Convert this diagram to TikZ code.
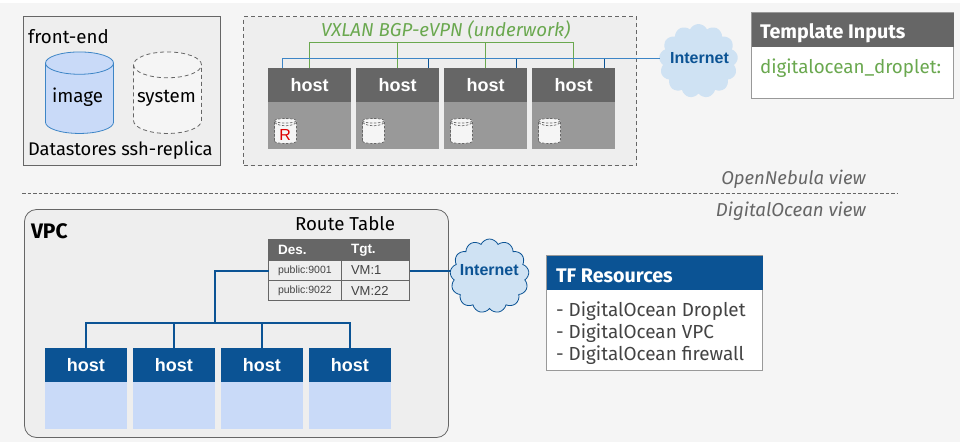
\documentclass[tikz,border=0pt]{standalone}
\usepackage{fontspec}
\setmainfont{Fira Sans}
\newfontfamily\arialf{Liberation Sans}
\usetikzlibrary{shapes.geometric,shapes.symbols}
\definecolor{bgc}{HTML}{F5F5F5}
\definecolor{panel}{HTML}{EEEEEE}
\definecolor{gdark}{HTML}{666666}
\definecolor{gmid}{HTML}{999999}
\definecolor{bluedk}{HTML}{0B5394}
\definecolor{bluemd}{HTML}{3D85C6}
\definecolor{bluelt}{HTML}{C9DAF8}
\definecolor{cloudc}{HTML}{CFE2F3}
\definecolor{greenc}{HTML}{6AA84F}
\definecolor{txtg}{HTML}{434343}
\definecolor{redc}{HTML}{DD0000}
\newcommand{\regf}{\fontsize{18.7}{20}\selectfont}
\newcommand{\boldf}{\bfseries\fontsize{19.7}{21}\selectfont}
\tikzset{
  x=1pt,y=-1pt,
  txt/.style={anchor=base west,inner sep=0,outer sep=0},
  boxpanel/.style={anchor=north west,inner sep=0,outer sep=0,line width=.8pt},
  dashgrey/.style={dash pattern=on 4pt off 3pt},
  hosthead/.style={anchor=north west,minimum width=82.7pt,minimum height=34.3pt,inner sep=0,outer sep=0,text=white,font=\arialf\bfseries\fontsize{18}{20}\selectfont},
  hostbody/.style={anchor=north west,minimum width=82.7pt,minimum height=47pt,inner sep=0,outer sep=0},
  bigcyl/.style={cylinder,anchor=shape center,shape border rotate=90,aspect=0.82,minimum width=68pt,minimum height=81.5pt,inner sep=0,outer sep=0,line width=.8pt},
  smallcyl/.style={cylinder,anchor=shape center,shape border rotate=90,aspect=0.75,minimum width=22pt,minimum height=25pt,inner sep=0,outer sep=0,draw=gdark,fill=bgc,line width=.7pt,dash pattern=on 2.4pt off 1.6pt},
  cylarc/.style={draw=gdark,line width=.7pt,dash pattern=on 2.4pt off 1.6pt},
  netcloud/.style={cloud,cloud puffs=13,cloud puff arc=130,aspect=1.05,minimum width=79pt,minimum height=74pt,inner sep=0,outer sep=0,fill=cloudc},
  netlabel/.style={inner sep=0,outer sep=0,text=bluedk,font=\arialf\bfseries\fontsize{16}{18}\selectfont},
  cell/.style={anchor=north west,draw=gdark,line width=.8pt,inner xsep=9.5pt,inner ysep=0,outer sep=0,minimum height=20pt,fill=panel,align=left},
  ogline/.style={line width=1pt},
  busline/.style={bluedk,line width=2pt},
}
\begin{document}
\begin{tikzpicture}
\useasboundingbox (0,0) rectangle (960,442);
\fill[bgc] (0,3) rectangle (960,442);
% front-end panel
\node[boxpanel,draw=gdark,fill=panel,minimum width=197pt,minimum height=148.5pt] (fe) at (23.5,16.5) {};
\node[txt,font=\regf,text=black] (felabel) at (28,43) {front-end};
\node[bigcyl,draw=bluemd,fill=bluelt] (image) at (79.5,92.7) {\phantom{image}};
\node[bigcyl,draw=gdark,fill=bgc,dashgrey] (system) at (167.5,92.7) {\phantom{system}};
\node[inner sep=0,font=\regf,text=black,anchor=base] (imagetxt) at (77.5,102.5) {image};
\node[inner sep=0,font=\regf,text=black,anchor=base] (systemtxt) at (166.5,102.5) {system};
\node[txt,font=\fontsize{18.3}{20}\selectfont,text=black] (dslabel) at (28,155) {Datastores ssh-replica};
% dashed panel
\node[boxpanel,draw=gdark,fill=panel,dashgrey,minimum width=393pt,minimum height=149pt] (cluster) at (243.5,16.5) {};
\node[txt,font=\itshape\regf,text=greenc] (vxlan) at (321,36) {VXLAN BGP-eVPN (underwork)};
% top hosts
\foreach \n/\x in {1/268.3,2/356.3,3/444.3,4/532.3}{
  \node[hostbody,fill=gmid] (tb\n) at (\x,101.8) {};
  \node[hosthead,fill=gdark] (th\n) at (\x,67.5) {host};
}
\node[smallcyl] (c1) at (285.5,131) {\phantom{R}};
\node[smallcyl] (c2) at (373.5,131) {\phantom{R}};
\node[smallcyl] (c3) at (461.5,131) {\phantom{R}};
\node[smallcyl] (c4) at (549.5,131) {\phantom{R}};
\foreach \n in {1,2,3,4}{
  \draw[cylarc] ([shift={(-10.8,-8.5)}]c\n.shape center) .. controls ([shift={(-7,-4.2)}]c\n.shape center) and ([shift={(7,-4.2)}]c\n.shape center) .. ([shift={(10.8,-8.5)}]c\n.shape center);
}
\node[inner sep=0,text=redc,font=\arialf\fontsize{16}{18}\selectfont,anchor=base] (c1txt) at (285.2,140) {R};
% top cloud
\node[netcloud] (net1) at (698.5,61) {\phantom{Internet}};
\node[netlabel] (net1txt) at (699.5,58) {Internet};
% top connectors
\coordinate (gb1) at (309.5,42.5);
\coordinate (gb2) at (397.3,42.5);
\coordinate (gb3) at (485.3,42.5);
\coordinate (gb4) at (573.3,42.5);
\draw[greenc,ogline] (gb1 |- th1.north) -- (gb1) -- (gb4) -- (gb4 |- th4.north);
\draw[greenc,ogline] (gb2) -- (gb2 |- th2.north);
\draw[greenc,ogline] (gb3) -- (gb3 |- th3.north);
\coordinate (bb1) at (282.5,58.5);
\coordinate (bb2) at (428.3,58.5);
\coordinate (bb3) at (516.3,58.5);
\coordinate (bb4) at (604.3,58.5);
\draw[bluemd,ogline] (bb1 |- th1.north) -- (bb1) -- (bb1 -| net1.west);
\draw[bluedk,ogline] (bb2) -- (bb2 |- th2.north);
\draw[bluedk,ogline] (bb3) -- (bb3 |- th3.north);
\draw[bluedk,ogline] (bb4) -- (bb4 |- th4.north);
% template inputs
\node[boxpanel,draw=gmid,fill=white,minimum width=202pt,minimum height=86pt] (tibox) at (751.5,12.5) {};
\node[boxpanel,fill=gdark,minimum width=202pt,minimum height=34pt] (tihead) at (751.5,12.5) {};
\node[txt,text=white,font=\boldf] (titxt) at (760,38.5) {Template Inputs};
\node[txt,text=greenc,font=\fontsize{18.8}{20}\selectfont] (tival) at (760,73) {digitalocean\_droplet:};
% separator
\coordinate (sepl) at (22,193.5);
\coordinate (sepr) at (898,193.5);
\draw[gdark,dash pattern=on 3.5pt off 2pt,line width=.7pt] (sepl) -- (sepr);
\node[anchor=base east,inner sep=0,text=gdark,font=\itshape\fontsize{18.5}{20}\selectfont] (onv) at (866,184) {OpenNebula view};
\node[anchor=base east,inner sep=0,text=gdark,font=\itshape\fontsize{18.7}{20}\selectfont] (dov) at (866,216) {DigitalOcean view};
% VPC
\node[boxpanel,draw=gdark,fill=panel,rounded corners=12pt,minimum width=424pt,minimum height=228pt] (vpc) at (24.5,209.5) {};
\node[txt,font=\bfseries\fontsize{21}{23}\selectfont,text=black] (vpclabel) at (31,238) {VPC};
\node[txt,font=\regf,text=black] (rtlabel) at (295,230) {Route Table};
% bottom hosts
\foreach \n/\x in {1/44.5,2/132.5,3/220.5,4/308.5}{
  \node[hostbody,fill=bluelt] (bb\n x) at (\x,381.7) {};
  \node[hosthead,fill=bluedk] (bh\n) at (\x,347.7) {host};
}
% route table
\node[cell,fill=gdark,minimum height=21pt,text width=54pt,text=white,font=\arialf\bfseries\fontsize{13.5}{15}\selectfont] (des) at (268.5,239.5) {Des.};
\node[cell,fill=gdark,minimum height=21pt,text width=49pt,text=white,font=\arialf\bfseries\fontsize{13.5}{15}\selectfont] (tgt) at (341.5,239.5) {Tgt.};
\node[cell,text width=54pt,text=txtg,font=\arialf\fontsize{10.5}{12}\selectfont] (r1a) at (268.5,260.5) {public:9001};
\node[cell,text width=49pt,text=txtg,font=\arialf\fontsize{13}{15}\selectfont] (r1b) at (341.5,260.5) {VM:1};
\node[cell,text width=54pt,text=txtg,font=\arialf\fontsize{10.5}{12}\selectfont] (r2a) at (268.5,280.5) {public:9022};
\node[cell,text width=49pt,text=txtg,font=\arialf\fontsize{13}{15}\selectfont] (r2b) at (341.5,280.5) {VM:22};
% bottom cloud
\node[netcloud,draw=bluedk,line width=.8pt] (net2) at (489.5,276) {\phantom{Internet}};
\node[netlabel] (net2txt) at (489.3,270) {Internet};
% bottom connectors
\coordinate (trunk) at (214.5,322.5);
\draw[busline] (r1a.west) -| (trunk);
\coordinate (busl) at (bh1.north |- trunk);
\coordinate (busr) at (bh4.north |- trunk);
\draw[busline] (bh1.north) -- (busl) -- (busr) -- (bh4.north);
\draw[busline] (bh2.north) -- (bh2.north |- trunk);
\draw[busline] (bh3.north) -- (bh3.north |- trunk);
\draw[busline] (r1b.east) -- (r1b.east -| net2.west);
% TF resources
\node[boxpanel,draw=gmid,fill=white,minimum width=216pt,minimum height=115pt] (tfbox) at (546.5,255.5) {};
\node[boxpanel,fill=bluedk,minimum width=216pt,minimum height=34pt] (tfhead) at (546.5,255.5) {};
\node[txt,text=white,font=\boldf] (tftxt) at (556,282) {TF Resources};
\node[txt,text=txtg,font=\fontsize{18.9}{20}\selectfont] (tf1) at (556,316.5) {- DigitalOcean Droplet};
\node[txt,text=txtg,font=\fontsize{18.9}{20}\selectfont] (tf2) at (556,338) {- DigitalOcean VPC};
\node[txt,text=txtg,font=\fontsize{18.9}{20}\selectfont] (tf3) at (556,360) {- DigitalOcean firewall};
\end{tikzpicture}
\end{document}
